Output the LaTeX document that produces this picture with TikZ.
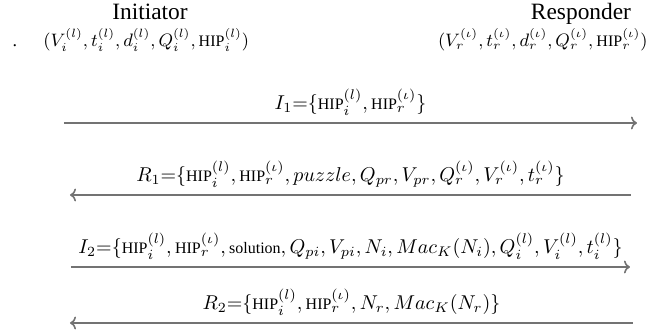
\documentclass[tikz,border=0pt]{standalone}
\usepackage{amsmath}
\usepackage{fontspec}
\setmainfont{Liberation Serif}
\usetikzlibrary{arrows.meta}

\newcommand{\hip}{\text{\footnotesize HIP}}
\newcommand{\soln}{\text{\footnotesize solution}}

\begin{document}
\begin{tikzpicture}[x=0.5pt,y=-0.5pt,font=\normalsize,
  party/.style={font=\fontsize{11.7}{13}\selectfont, anchor=base, inner sep=0pt},
  tuple/.style={font=\small, inner sep=0pt},
  msg/.style={draw=black!55, line width=0.8pt, -{To[length=3pt,width=6.5pt]}},
  lbl/.style={anchor=base, yshift=6.5pt, inner sep=0pt}]
  \useasboundingbox (0,0) rectangle (650,336);

  % the two parties and their local state
  \node[party] (init) at (150,20) {Initiator};
  \node[party] (resp) at (581,20) {Responder};
  \node[tuple, anchor=base] (dot) at (15,47) {.};
  \node[tuple, anchor=base west] (itup) at (43,47)
    {$(V_i^{(l)},t_i^{(l)},d_i^{(l)},Q_i^{(l)},\hip_i^{(l)})$};
  \node[tuple, anchor=base east] (rtup) at (648,47)
    {$(V_r^{(\iota)},t_r^{(\iota)},d_r^{(\iota)},Q_r^{(\iota)},\hip_r^{(\iota)})$};

  % exchanged messages
  \foreach \n/\y/\xa/\xb/\txt in {
    1/123/64/637/{$I_1{=}\{\hip_i^{(l)},\hip_r^{(\iota)}\}$},
    2/195/631/70/{$R_1{=}\{\hip_i^{(l)},\hip_r^{(\iota)},puzzle,Q_{pr},V_{pr},Q_r^{(\iota)},V_r^{(\iota)},t_r^{(\iota)}\}$},
    3/267/71/630/{$I_2{=}\{\hip_i^{(l)},\hip_r^{(\iota)},\soln,Q_{pi},V_{pi},N_i,Mac_K(N_i),Q_i^{(l)},V_i^{(l)},t_i^{(l)}\}$},
    4/323/633/70/{$R_2{=}\{\hip_i^{(l)},\hip_r^{(\iota)},N_r,Mac_K(N_r)\}$}
  }{
    \coordinate (s\n) at (\xa,\y);
    \coordinate (e\n) at (\xb,\y);
    \draw[msg] (s\n) -- node[midway, lbl] (m\n) {\txt} (e\n);
  }
\end{tikzpicture}
\end{document}
